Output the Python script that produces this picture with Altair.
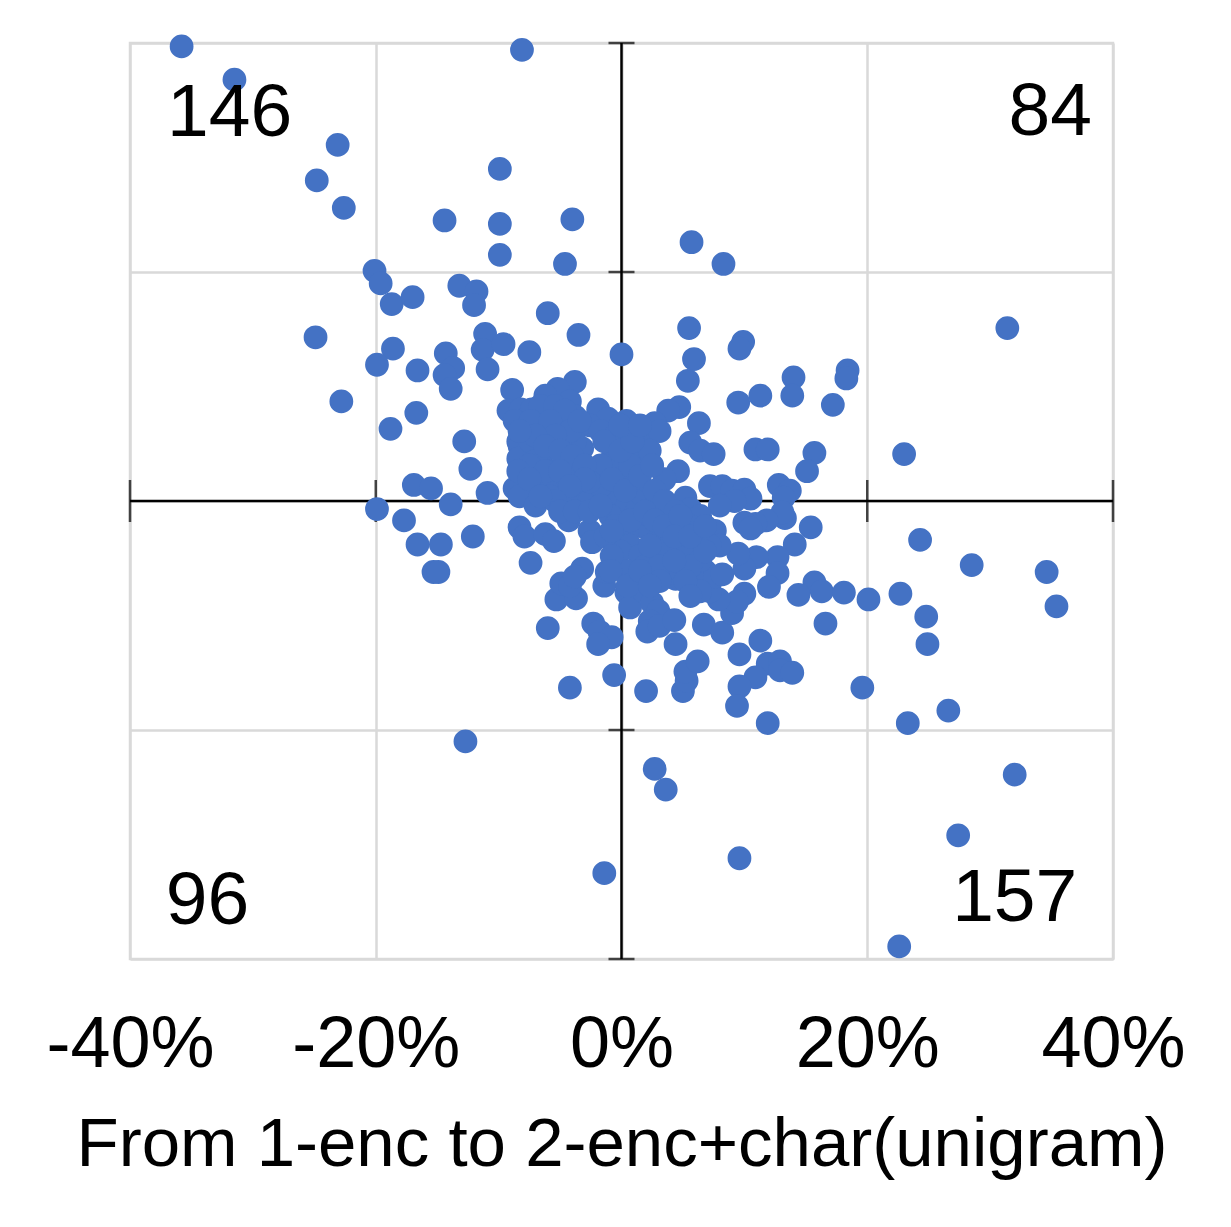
import altair as alt
import pandas as pd

xs_outer = [-35.8,-31.5,-8.1,-23.1,-24.8,-22.6,-9.9,-14.4,-9.9,-4.0,-9.9,-4.6,5.7,8.3,-20.1,-19.6,-18.7,-17.0,-13.2,-11.8,-12.0,-6.0,-3.5,-24.9,-18.6,-19.9,-16.6,-22.8,-11.1,-11.3,-9.6,-7.5,-14.3,-13.7,-14.4,-13.9,-10.9,-8.9,0.0,5.5,5.9,5.4,9.9,9.6,31.4,14.0,13.9,18.4,18.3,17.2,11.3,9.5,6.3,4.7,-16.7,-18.8,-12.8,-12.3,-16.9,-15.5,-10.9,-13.9,-19.9,-17.7,-16.6,-14.7,-12.1,-15.3,-14.9,-8.3,-7.9,-7.4,-6.2,-5.5]
ys_outer = [39.7,36.8,39.4,31.1,28.0,25.6,29.0,24.5,24.2,24.6,21.5,20.7,22.6,20.7,20.1,19.0,17.2,17.8,18.8,18.3,17.1,16.4,14.5,14.3,13.3,11.9,11.4,8.7,14.6,13.2,13.7,13.0,12.9,11.6,11.0,9.8,11.5,9.7,12.8,15.1,12.4,10.5,13.9,13.3,15.1,10.8,9.2,11.4,10.7,8.4,9.2,8.6,6.8,8.2,7.7,6.3,5.2,2.8,1.4,1.1,0.7,-0.3,-0.7,-1.7,-3.8,-3.8,-3.1,-6.2,-6.2,-2.3,-3.1,-5.4,-2.9,-3.5]

xs_right = [23.0,15.7,15.1,10.9,11.9,12.8,13.7,13.2,15.4,13.3,13.1,11.8,10.9,10.0,10.5,14.1,12.7,11.0,12.7,12.0,10.0,9.5,15.7,16.3,14.4,18.1,20.1,22.7,24.3,28.5,34.6,35.4,24.8,24.9,16.6,11.3,9.6,11.9,12.9,12.9,13.9,10.9,9.6,19.6,9.4,11.9,23.3,26.6,32.0,27.4,9.6,22.6,-1.4,2.7,3.6,-12.7,-4.2,-0.6,2.0,5.0,5.3,5.2,6.2,4.4,6.7,8.2,9.0,10.0,9.4,7.9,7.2]
ys_right = [4.1,4.2,2.6,4.5,4.5,1.4,0.9,0.3,-2.3,-1.5,-1.0,-1.7,-2.0,-1.9,-2.4,-3.8,-4.9,-4.9,-6.3,-7.5,-5.9,-4.6,-7.1,-7.9,-8.2,-8.0,-8.6,-8.1,-3.4,-5.6,-6.2,-9.2,-10.1,-12.5,-10.7,-12.2,-13.4,-14.2,-14.0,-14.8,-15.0,-15.4,-16.2,-16.3,-17.9,-19.4,-19.4,-18.3,-23.9,-29.2,-31.2,-38.9,-32.5,-23.4,-25.2,-21.0,-16.3,-15.2,-16.6,-16.6,-15.7,-14.9,-14.0,-12.5,-10.8,-11.5,-9.8,-8.1,-8.8,-8.6,-7.9]

xs_low = [-6.0,-5.3,-4.9,-3.7,-4.2,-3.2,-3.8,-2.3,-1.8,-0.8,-1.9,-1.4,-1.2,0.4,0.7,1.8,2.0,2.5,3.0,2.3,2.1,3.1,4.3,4.4,4.8,6.0,6.8,7.6,6.4,8.2,-2.6,-2.4,-4.3]
ys_low = [-11.1,-8.6,-7.2,-8.5,-7.4,-5.9,-6.6,-10.7,-11.4,-11.9,-12.5,-7.4,-6.2,-8.0,-9.3,-7.9,-6.6,-8.9,-9.6,-10.5,-11.4,-10.9,-10.4,-6.8,-6.1,-6.6,-6.1,-6.6,-7.9,-6.4,-2.6,-3.6,-1.7]

xs_core = [3.8,2.7,2.2,3.1,1.5,2.3,5.6,6.4,7.5,4.6,3.5,7.2,8.2,9.0,10.0,10.5,9.2,8.0,5.2,5.6,6.4,7.6,8.0,6.4,5.6,4.8,3.9,3.1,2.3,1.5,0.7,-0.1,-0.9,-1.7,0.7,
           -3.8,-5.2,-6.2,-4.2,-9.2,-8.2,-7.3,-6.6,-7.9,-8.4,-8.3,-8.4,-7.4,-6.2,-5.0,-3.8,-1.9,-1.1,0.4,-2.6,-1.7,-0.5,-3.2,-3.8,-5.0,-6.2,-7.0,-5.8,-4.6,-3.8,-5.0,-6.2,-7.4,-8.7,-8.3,-7.0,-5.8,-4.2,-3.4,-2.6,
           1.1,0.3,-0.5,-1.3,-1.7,-2.6,0.3,1.5,2.3,3.1,3.9,4.8,5.6,6.4,7.2,0.7,-0.1,1.5,1.9,0.3,5.6,6.8,-0.9,-1.3,-0.5,2.3]
ys_core = [7.9,6.8,5.7,6.1,4.4,4.4,5.1,4.4,4.1,2.6,1.9,1.3,1.3,0.9,1.0,0.2,0.0,-0.4,0.3,-0.7,-1.3,-2.6,-3.9,-3.1,-2.2,-2.6,-1.7,-0.9,0.0,0.9,1.7,2.6,3.5,3.1,3.1,
           10.4,9.8,9.2,8.7,7.9,8.0,8.0,7.0,6.6,5.2,4.8,3.7,5.2,6.1,7.0,7.4,8.0,7.2,7.0,6.6,6.1,5.7,4.6,5.2,5.2,4.4,3.5,2.6,3.5,2.2,1.7,1.3,0.9,1.1,0.4,-0.4,0.4,0.0,0.9,0.0,
           0.0,-0.9,0.0,0.4,1.3,1.7,-2.6,-2.2,-2.6,-3.1,-3.9,-4.8,-4.4,-5.2,-3.9,-3.9,-4.4,-4.8,-5.7,-6.1,-5.7,-4.4,-1.3,-3.1,-2.2,-1.3]

xs_dense = [-6.6,-5.4,-4.6,-8.7,-7.4,-5.8,-4.2,-5.4,-7.0,-8.3,-6.2,-5.0,-4.0,-7.5,-8.4,-6.2,-5.0,-3.0,-3.0,-7.5,-4.2,-5.4,-5.0,-6.6,-3.8,-2.6,-1.7,-3.4,-1.4,-0.1,0.9,-0.1,1.5,-0.8,0.3,1.5,2.5,2.7,3.5,4.4,
            0.7,-0.8,1.9,2.7,3.5,4.8,3.1,2.3,4.3,5.6,6.8,3.1,4.3,-0.8,-0.9,3.1,0.5,1.5,2.3,5.2,5.6]
ys_dense = [8.3,8.3,7.9,7.0,7.0,7.0,6.1,5.7,5.7,6.1,4.8,4.4,3.9,3.1,2.6,2.6,2.6,3.1,1.9,1.9,1.3,0.0,-0.9,0.4,-0.9,-0.9,-0.4,7.0,5.2,4.4,5.2,6.6,6.6,1.9,0.9,2.2,3.1,0.9,0.0,-0.9,
            -1.7,-2.6,-0.9,-1.7,-2.2,-1.3,-4.4,-3.9,-3.1,-3.1,-2.2,-5.7,-5.2,-4.8,-6.1,-7.0,-7.4,-6.1,-7.4,-7.0,-8.3]

quadrant_labels = ["146", "84", "96", "157"]
quadrant_x = [-31.9, 34.9, -33.7, 32.0]
quadrant_y = [33.9, 34.0, -34.9, -34.7]

x_ticks = [-40, -20, 0, 20, 40]
y_ticks = [-40, -20, 0, 20, 40]
x_title = "From 1-enc to 2-enc+char(unigram)"

FONT = "Liberation Sans"
BLUE = "#4472C4"
GRID = "#D9D9D9"

points = pd.DataFrame({
    "x": xs_outer + xs_right + xs_low + xs_core + xs_dense,
    "y": ys_outer + ys_right + ys_low + ys_core + ys_dense,
})
labels = pd.DataFrame({"t": quadrant_labels, "x": quadrant_x, "y": quadrant_y})
xt = pd.DataFrame({"x": [v for v in x_ticks if v != 0], "y": 0})
yt = pd.DataFrame({"y": y_ticks, "x": 0})

x_scale = alt.Scale(domain=[-40, 40], nice=False)
y_scale = alt.Scale(domain=[-40, 40], nice=False)

x_axis = alt.Axis(
    values=x_ticks, grid=True, gridColor=GRID, gridWidth=2.5, domain=False, ticks=False,
    labelFontSize=72, labelFont=FONT, labelColor="black", labelPadding=50,
    labelExpr="datum.value + '%'", labelOverlap=False, labelFlush=False, labelBound=False,
    titleFont=FONT, titleFontSize=69, titleFontWeight="normal",
    titleColor="black", titlePadding=30)
y_axis = alt.Axis(values=y_ticks, grid=True, gridColor=GRID, gridWidth=2.5, domain=False, ticks=False, labels=False)

enc_x = alt.X("x:Q", scale=x_scale, title=x_title, axis=x_axis)
enc_y = alt.Y("y:Q", scale=y_scale, title=None, axis=y_axis)

scatter = alt.Chart(points).mark_point(filled=True, size=565, color=BLUE, opacity=1).encode(x=enc_x, y=enc_y)
x_zero = alt.Chart(pd.DataFrame({"x": [0]})).mark_rule(color="black", strokeWidth=2.5).encode(x=enc_x)
y_zero = alt.Chart(pd.DataFrame({"y": [0]})).mark_rule(color="black", strokeWidth=2.5).encode(y=enc_y)
x_tick_marks = alt.Chart(xt).mark_tick(color="black", thickness=2.5, size=42, orient="vertical").encode(x=enc_x, y=enc_y)
y_tick_marks = alt.Chart(yt).mark_tick(color="black", thickness=2.5, size=26, orient="horizontal").encode(x=enc_x, y=enc_y)
text = alt.Chart(labels).mark_text(font=FONT, fontSize=75, color="black", align="center", baseline="middle").encode(
    x=enc_x, y=enc_y, text="t:N")

chart = alt.layer(x_zero, y_zero, x_tick_marks, y_tick_marks, scatter, text).properties(
    width=983, height=916, background="white",
    autosize="none", padding={"left": 122, "top": 35, "right": 100, "bottom": 250},
).configure_view(stroke=GRID, strokeWidth=2.5)

chart.save("out.html", embed_options={"renderer": "svg", "actions": False})
